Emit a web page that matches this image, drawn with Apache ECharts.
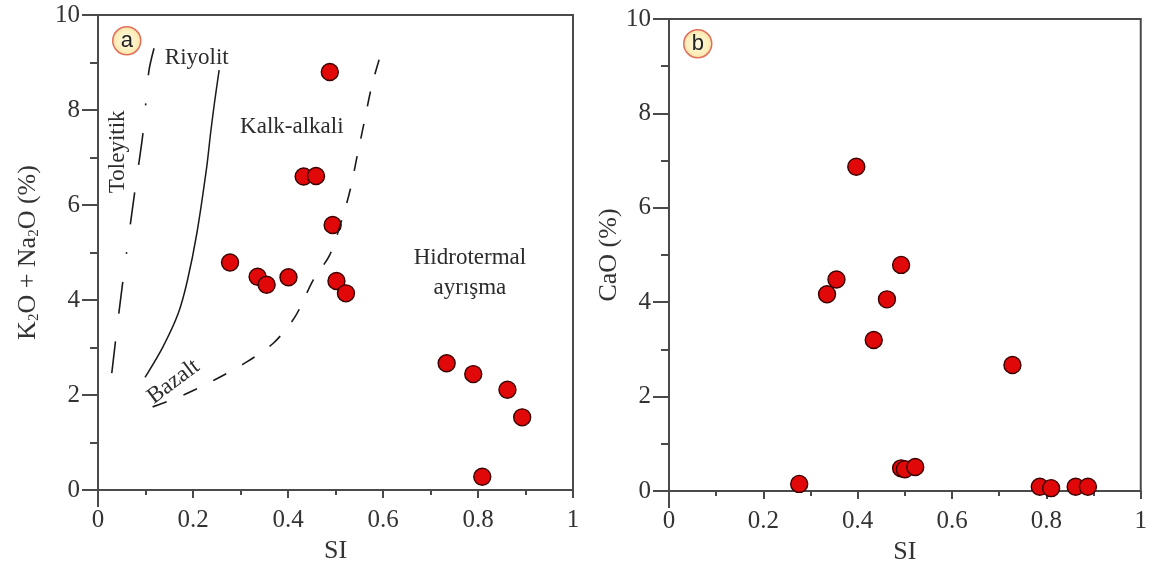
<!DOCTYPE html>
<html>
<head>
<meta charset="utf-8">
<script src="https://cdn.jsdelivr.net/npm/echarts@6/dist/echarts.min.js"></script>
<style>
html,body{margin:0;padding:0;background:#fff;}
#c{width:1150px;height:574px;}
</style>
</head>
<body>
<div id="c"></div>
<script>
// ---- Data ----
const siA   = [0.278, 0.336, 0.355, 0.401, 0.433, 0.459, 0.488, 0.494, 0.502, 0.522, 0.734, 0.790, 0.809, 0.862, 0.893];
const alkA  = [4.79, 4.49, 4.32, 4.48, 6.60, 6.61, 8.80, 5.58, 4.40, 4.14, 2.67, 2.44, 0.28, 2.11, 1.53];

const siB   = [0.276, 0.335, 0.355, 0.397, 0.434, 0.462, 0.492, 0.492, 0.500, 0.522, 0.728, 0.786, 0.810, 0.862, 0.888];
const caoB  = [0.15, 4.17, 4.48, 6.87, 3.20, 4.06, 4.79, 0.48, 0.46, 0.51, 2.67, 0.09, 0.06, 0.09, 0.09];

// Boundary lines (panel a)
const tholX = [0.029, 0.043, 0.060, 0.078, 0.095, 0.107, 0.118];
const tholY = [2.46, 3.65, 4.99, 6.32, 7.54, 8.81, 9.30];

const rhyX  = [0.099, 0.137, 0.169, 0.188, 0.208, 0.229, 0.237, 0.246, 0.255];
const rhyY  = [2.37, 3.02, 3.72, 4.40, 5.40, 6.81, 7.51, 8.21, 8.84];

const hydX  = [0.115, 0.180, 0.246, 0.309, 0.369, 0.415, 0.453, 0.488, 0.513, 0.531, 0.546, 0.560, 0.576, 0.595, 0.604];
const hydY  = [1.75, 2.00, 2.32, 2.67, 3.09, 3.65, 4.42, 4.95, 5.68, 6.32, 7.05, 7.72, 8.49, 9.16, 9.36];

// Region labels (panel a)
const regionNames = ['Riyolit', 'Kalk-alkali', 'Toleyitik', 'Hidrotermal', 'ayrışma', 'Bazalt'];
const regionX     = [0.208, 0.408, 0.042, 0.783, 0.783, 0.159];
const regionY     = [9.09, 7.64, 7.12, 4.88, 4.25, 2.28];
const regionRot   = [0, 0, 90, 0, 0, 37];

const xTickInterval = 0.2;
const yTickInterval = 2;

// ---- Chart ----
const SERIF = "'Liberation Serif','Times New Roman',serif";
const TXT = '#333333';
const AX = '#4a4a4a';

function zip(a, b) { return a.map((v, i) => [v, b[i]]); }

function xAxisCfg(idx) {
  return {
    gridIndex: idx, type: 'value', min: 0, max: 1, interval: xTickInterval,
    name: 'SI', nameLocation: 'middle', nameGap: 47,
    nameTextStyle: { fontFamily: SERIF, fontSize: 26, color: TXT },
    axisLine: { show: true, onZero: false, lineStyle: { color: AX, width: 2 } },
    axisTick: { show: true, length: 8, lineStyle: { color: AX, width: 2 } },
    minorTick: { show: true, splitNumber: 2, length: 5, lineStyle: { color: AX, width: 2 } },
    axisLabel: { fontFamily: SERIF, fontSize: 25, color: TXT, margin: 18 },
    splitLine: { show: false }
  };
}
function yAxisCfg(idx, name, gap) {
  return {
    gridIndex: idx, type: 'value', min: 0, max: 10, interval: yTickInterval,
    name: name, nameLocation: 'middle', nameGap: gap,
    nameTextStyle: {
      fontFamily: SERIF, fontSize: 26, color: TXT,
      rich: {
        n: { fontFamily: SERIF, fontSize: 26, color: TXT },
        s: { fontFamily: SERIF, fontSize: 15, color: TXT, padding: [13, 0, 0, 0] }
      }
    },
    axisLine: { show: true, onZero: false, lineStyle: { color: AX, width: 2 } },
    axisTick: { show: true, length: 16, lineStyle: { color: AX, width: 2 } },
    minorTick: { show: true, splitNumber: 2, length: 8, lineStyle: { color: AX, width: 2 } },
    axisLabel: { fontFamily: SERIF, fontSize: 25, color: TXT, margin: 18 },
    splitLine: { show: false }
  };
}

const pointStyle = { color: '#e00808', borderColor: '#3a0000', borderWidth: 1.4, opacity: 1 };

const badgeFill = () => new echarts.graphic.RadialGradient(0.5, 0.5, 0.5, [
  { offset: 0, color: '#fffbe6' }, { offset: 0.75, color: '#fbeeb8' }, { offset: 1, color: '#f6d9a8' }
]);

const chart = echarts.init(document.getElementById('c'), null, { renderer: 'canvas' });
chart.setOption({
  animation: false,
  backgroundColor: '#fff',
  grid: [
    { left: 98, top: 15, width: 475, height: 475, show: true, borderColor: AX, borderWidth: 2, backgroundColor: 'transparent' },
    { left: 669, top: 19, width: 473, height: 472, show: true, borderColor: AX, borderWidth: 2, backgroundColor: 'transparent' }
  ],
  xAxis: [xAxisCfg(0), xAxisCfg(1)],
  yAxis: [
    yAxisCfg(0, '{n|K}{s|2}{n|O + Na}{s|2}{n|O (%)}', 56),
    yAxisCfg(1, 'CaO (%)', 47)
  ],
  series: [
    {
      type: 'line', xAxisIndex: 0, yAxisIndex: 0, data: zip(tholX, tholY),
      showSymbol: false, smooth: 0.3, silent: true,
      lineStyle: { color: '#1a1a1a', width: 1.6, type: [32, 28, 32, 28, 2, 28] }
    },
    {
      type: 'line', xAxisIndex: 0, yAxisIndex: 0, data: zip(rhyX, rhyY),
      showSymbol: false, smooth: 0.3, silent: true,
      lineStyle: { color: '#1a1a1a', width: 1.5, type: 'solid' }
    },
    {
      type: 'line', xAxisIndex: 0, yAxisIndex: 0, data: zip(hydX, hydY),
      showSymbol: false, smooth: 0.3, silent: true,
      lineStyle: { color: '#1a1a1a', width: 1.6, type: [15, 18] }
    },
    {
      type: 'scatter', xAxisIndex: 0, yAxisIndex: 0, symbolSize: 0, silent: true,
      itemStyle: { opacity: 1 },
      data: regionNames.map((n, i) => ({
        name: n, value: [regionX[i], regionY[i]],
        label: { rotate: regionRot[i] }
      })),
      label: {
        show: true, position: 'inside', formatter: p => p.name,
        fontFamily: SERIF, fontSize: 23, color: '#2b2b2b', opacity: 1
      }
    },
    {
      type: 'scatter', xAxisIndex: 0, yAxisIndex: 0, data: zip(siA, alkA),
      symbol: 'circle', symbolSize: 17, itemStyle: pointStyle
    },
    {
      type: 'scatter', xAxisIndex: 1, yAxisIndex: 1, data: zip(siB, caoB),
      symbol: 'circle', symbolSize: 17, itemStyle: pointStyle
    }
  ],
  graphic: [
    // y-axis line extensions below the origin
    { type: 'line', shape: { x1: 98, y1: 490, x2: 98, y2: 507 }, style: { stroke: AX, lineWidth: 2 } },
    { type: 'line', shape: { x1: 669, y1: 491, x2: 669, y2: 508 }, style: { stroke: AX, lineWidth: 2 } },
    { type: 'group', left: 112, top: 26, children: [
      { type: 'circle', shape: { cx: 14, cy: 14, r: 14 },
        style: { fill: badgeFill(), stroke: '#e0705a', lineWidth: 1.5 } },
      { type: 'text', style: { x: 14, y: 14, text: 'a', fontFamily: 'Liberation Sans, Arial, sans-serif', fontSize: 22, fill: '#222', align: 'center', verticalAlign: 'middle' } }
    ]},
    { type: 'group', left: 683, top: 29, children: [
      { type: 'circle', shape: { cx: 14, cy: 14, r: 14 },
        style: { fill: badgeFill(), stroke: '#e0705a', lineWidth: 1.5 } },
      { type: 'text', style: { x: 14, y: 14, text: 'b', fontFamily: 'Liberation Sans, Arial, sans-serif', fontSize: 22, fill: '#222', align: 'center', verticalAlign: 'middle' } }
    ]}
  ]
});
</script>
</body>
</html>
